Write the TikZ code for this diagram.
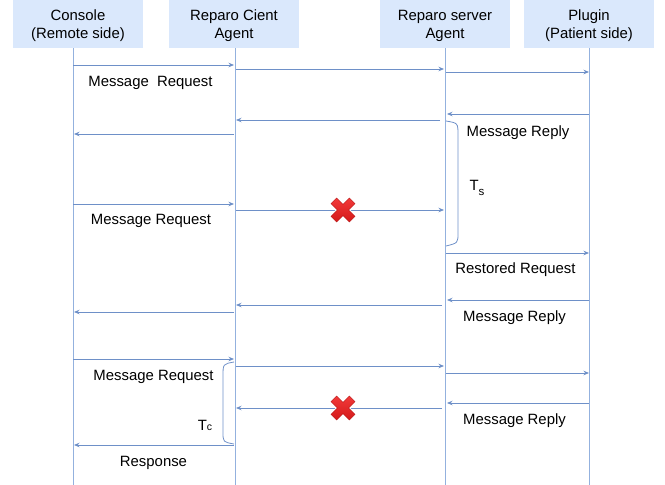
\documentclass[tikz,border=0pt]{standalone}
\usepackage{fontspec}
\setmainfont{Liberation Sans}
\usetikzlibrary{arrows.meta}
\definecolor{boxfill}{HTML}{DAE8FC}
\definecolor{lifec}{HTML}{93B1DE}
\definecolor{msgc}{HTML}{6E90C8}
\definecolor{xtop}{HTML}{F23A3A}
\definecolor{xbot}{HTML}{D41A1A}
\definecolor{xdark}{HTML}{B51515}
\newcommand\msgarrow[4]{%
  \coordinate (#1a) at (#2,#4);
  \coordinate (#1b) at (#3,#4);
  \draw[msg] (#1a) -- (#1b);}
\newcommand\crossmark[1]{%
  \begin{scope}[shift={(#1)}, rotate=45]
    \path[draw=white, line width=2.5pt, fill=white]
      (13,4) -- (4,4) -- (4,13) -- (-4,13) -- (-4,4) -- (-13,4) -- (-13,-4)
      -- (-4,-4) -- (-4,-13) -- (4,-13) -- (4,-4) -- (13,-4) -- cycle;
  \end{scope}
  \begin{scope}[shift={(#1)}, rotate=45]
    \path[draw=xdark, line width=0.4pt, top color=xtop, bottom color=xbot]
      (13,4) -- (4,4) -- (4,13) -- (-4,13) -- (-4,4) -- (-13,4) -- (-13,-4)
      -- (-4,-4) -- (-4,-13) -- (4,-13) -- (4,-4) -- (13,-4) -- cycle;
  \end{scope}}
\begin{document}
\begin{tikzpicture}[x=1pt,y=-1pt,
  font=\fontsize{14.9}{17}\selectfont,
  hdr/.style={fill=boxfill, draw=none, minimum height=48pt, minimum width=130pt, inner sep=0},
  life/.style={draw=lifec, line width=1pt},
  msg/.style={draw=msgc, line width=0.8pt, -{Stealth[length=5.5pt,width=4.5pt]}},
  lbl/.style={anchor=base, inner sep=0},
  brc/.style={draw=msgc, line width=0.8pt}]
\useasboundingbox (0,0) rectangle (665,485);

% header boxes
\node[hdr] (con) at (78,24) {};
\node[hdr] (cli) at (234,24) {};
\node[hdr] (srv) at (444.5,24) {};
\node[hdr] (plg) at (589,24) {};
\node[lbl] (conT1) at (78,20) {Console};
\node[lbl] (conT2) at (78,38) {(Remote side)};
\node[lbl] (cliT1) at (234,20) {Reparo Cient};
\node[lbl] (cliT2) at (234,38) {Agent};
\node[lbl] (srvT1) at (445,20) {Reparo server};
\node[lbl] (srvT2) at (445,38) {Agent};
\node[lbl] (plgT1) at (589,20) {Plugin};
\node[lbl] (plgT2) at (589,38) {(Patient side)};

% lifelines
\coordinate (conTop) at (73,48);  \coordinate (conBot) at (73,485);
\coordinate (cliTop) at (235,48); \coordinate (cliBot) at (235,485);
\coordinate (srvTop) at (445,48); \coordinate (srvBot) at (445,485);
\coordinate (plgTop) at (589,48); \coordinate (plgBot) at (589,485);
\draw[life] (conTop) -- (conBot);
\draw[life] (cliTop) -- (cliBot);
\draw[life] (srvTop) -- (srvBot);
\draw[life] (plgTop) -- (plgBot);

% messages
\msgarrow{m1}{73}{234}{65}
\msgarrow{m2}{236}{444}{69}
\msgarrow{m3}{446}{589}{72}
\msgarrow{m4}{589}{447}{114}
\msgarrow{m5}{440}{236}{120}
\msgarrow{m6}{234}{74}{134}
\msgarrow{m7}{73}{234}{204}
\msgarrow{m8}{236}{444}{210}
\msgarrow{m9}{446}{589}{253}
\msgarrow{m10}{589}{447}{300}
\msgarrow{m11}{442}{236}{305}
\msgarrow{m12}{234}{74}{312}
\msgarrow{m13}{73}{234}{359}
\msgarrow{m14}{236}{444}{366}
\msgarrow{m15}{446}{589}{373}
\msgarrow{m16}{589}{447}{403}
\msgarrow{m17}{442}{236}{408}
\msgarrow{m18}{234}{74}{445}

% failure marks
\coordinate (x1) at (343,210);
\coordinate (x2) at (343,408);
\crossmark{x1}
\crossmark{x2}

% braces
\coordinate (tsA) at (446,121);
\coordinate (tsB) at (446,246);
\draw[brc] (tsA) .. controls (458,123) .. (458,135) -- (458,233) .. controls (458,243) .. (tsB);
\coordinate (tcA) at (234,362);
\coordinate (tcB) at (234,444);
\draw[brc] (tcA) .. controls (223,364) .. (223,376) -- (223,432) .. controls (223,442) .. (tcB);

% labels
\node[lbl] (l1) at (150.5,86) {Message\ \ Request};
\node[lbl] (l2) at (518,136) {Message Reply};
\node[lbl] (ts) at (477,190.5) {T\raisebox{-5pt}{\fontsize{11.5}{12}\selectfont s}};
\node[lbl] (l3) at (151,224) {Message Request};
\node[lbl] (l4) at (515.5,273) {Restored Request};
\node[lbl] (l5) at (514.5,321) {Message Reply};
\node[lbl] (l6) at (153.5,380) {Message Request};
\node[lbl] (l7) at (514.5,424) {Message Reply};
\node[lbl] (tc) at (205,430.5) {T{\fontsize{10.5}{11}\selectfont c}};
\node[lbl] (l8) at (153.5,466) {Response};
\end{tikzpicture}
\end{document}
